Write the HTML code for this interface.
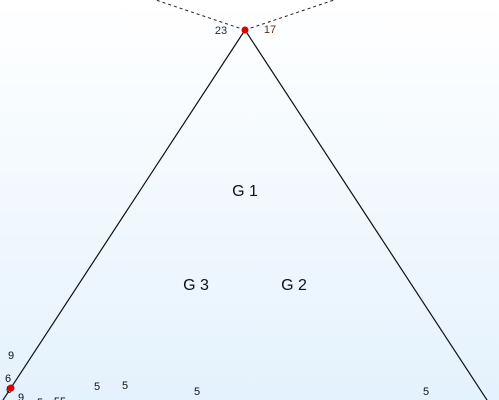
<!DOCTYPE html>
<html><head><meta charset="utf-8"><style>
html,body{margin:0;padding:0;width:499px;height:400px;overflow:hidden}
svg{display:block;font-family:"Liberation Sans",sans-serif}
</style></head><body>
<svg id="chart" width="499" height="400" viewBox="0 0 499 400">
<defs><linearGradient id="bg" x1="0" y1="0" x2="0" y2="1"><stop offset="0" stop-color="#ffffff"/><stop offset="1" stop-color="#e4f2fd"/></linearGradient></defs>
<rect width="499" height="400" fill="url(#bg)"/>
<g id="marks"></g>
</svg>
<script>
const apex=[245,30];
const leftSlope=-0.654, rightSlope=0.654;
const groupNames=["G 1","G 3","G 2"];
const groupPos=[[245,190],[196,284],[294,284]];
const numLabels=["9","6","6","9","5","55","5","5","5","5"];
const numPos=[[11,355],[8,378],[9,389],[21,397],[40,402],[60,401],[97,386],[125,385],[197,391],[426,391]];
const points=[[245,30],[11,388]];
const svgNS="http://www.w3.org/2000/svg";
const g=document.getElementById('marks');
function mk(t,a){const e=document.createElementNS(svgNS,t);for(const k in a)e.setAttribute(k,a[k]);g.appendChild(e);return e;}
let e;
e=mk('line',{x1:apex[0],y1:apex[1],x2:apex[0]+leftSlope*(405-apex[1]),y2:405,stroke:'#111','stroke-width':1.2});


e=mk('line',{x1:apex[0],y1:apex[1],x2:apex[0]+rightSlope*(405-apex[1]),y2:405,stroke:'#111','stroke-width':1.2});


e=mk('line',{x1:apex[0],y1:apex[1],x2:150,y2:-2,stroke:'#222','stroke-width':1,'stroke-dasharray':'3,3'});


e=mk('line',{x1:apex[0],y1:apex[1],x2:340,y2:-2,stroke:'#222','stroke-width':1,'stroke-dasharray':'3,3'});


groupNames.forEach((n,i)=>{const t=mk('text',{x:groupPos[i][0],y:groupPos[i][1]+6,'font-size':16,'text-anchor':'middle',fill:'#111'});t.textContent=n;

});
numLabels.forEach((n,i)=>{const t=mk('text',{x:numPos[i][0],y:numPos[i][1]+4,'font-size':11,'text-anchor':'middle',fill:'#111'});t.textContent=n;

});
let t=mk('text',{x:221,y:34,'font-size':11,'text-anchor':'middle',fill:'#1a2a44'});t.textContent="23";


t=mk('text',{x:270,y:33,'font-size':11,'text-anchor':'middle',fill:'#5a3210'});t.textContent="17";


points.forEach(p=>{const c=mk('circle',{cx:p[0],cy:p[1],r:3.5,fill:'#e00000'});

});
</script>
</body></html>
